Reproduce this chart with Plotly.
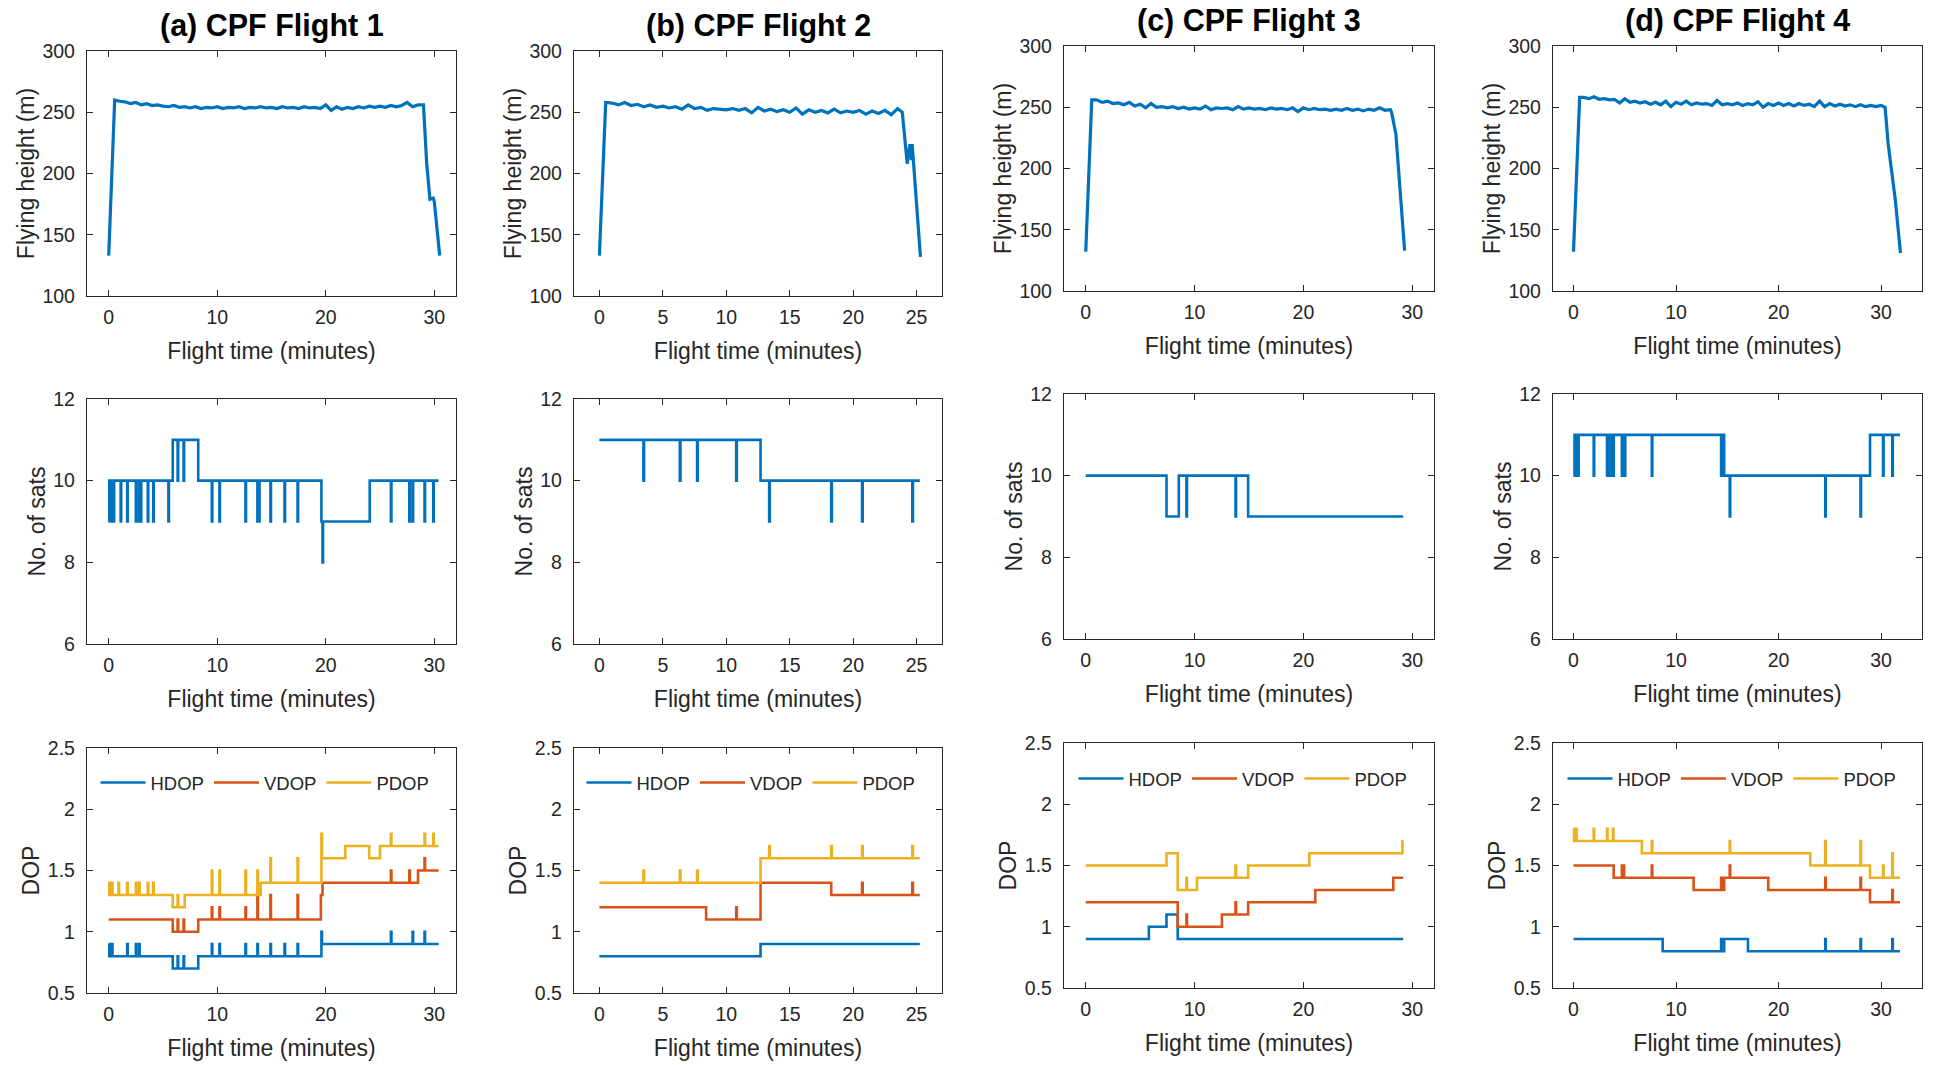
import plotly.graph_objects as go

# ------------------------------------------------------------------ data
FLIGHT_TITLES = ["(a) CPF Flight 1", "(b) CPF Flight 2", "(c) CPF Flight 3", "(d) CPF Flight 4"]

# Flying height (m) vs flight time (minutes)
F1_T = [0, 0.55, 1.0, 1.5, 2.0, 2.5, 3.0, 3.5, 4.0, 4.5, 5.0, 5.5, 6.0, 6.5, 7.0, 7.5, 8.0, 8.5, 9.0, 9.5,
        10.0, 10.5, 11.0, 11.5, 12.0, 12.5, 13.0, 13.5, 14.0, 14.5, 15.0, 15.5, 16.0, 16.5, 17.0, 17.5,
        18.0, 18.5, 19.0, 19.5, 20.0, 20.5, 21.0, 21.5, 22.0, 22.5, 23.0, 23.5, 24.0, 24.5, 25.0, 25.5,
        26.0, 26.5, 27.0, 27.5, 28.0, 28.5, 29.0, 29.3, 29.6, 29.9, 30.0, 30.5]
F1_H = [133, 260, 259, 258.5, 257, 258, 256, 257, 255.5, 256, 255, 254.5, 255.5, 254, 254.5, 253.5, 254.5, 253, 254, 253.5,
        254.5, 253, 254, 253.5, 254.5, 253, 254, 253.5, 254.5, 253.5, 254, 253, 254.5, 253.5, 254, 253,
        254.5, 253.5, 254, 253, 256, 251.5, 254.5, 252.5, 254, 253, 254.5, 253.5, 255, 254, 255, 254,
        255.5, 254.5, 255.5, 258, 254.5, 256, 256, 208, 179, 180, 177, 133]

F2_T = [0, 0.5, 1.0, 1.5, 2.0, 2.5, 3.0, 3.5, 4.0, 4.5, 5.0, 5.5, 6.0, 6.5, 7.0, 7.5, 8.0, 8.5, 9.0, 9.5,
        10.0, 10.5, 11.0, 11.5, 12.0, 12.5, 13.0, 13.5, 14.0, 14.5, 15.0, 15.5, 16.0, 16.5, 17.0, 17.5,
        18.0, 18.5, 19.0, 19.5, 20.0, 20.5, 21.0, 21.5, 22.0, 22.5, 23.0, 23.5, 23.87, 24.26, 24.47, 24.6,
        24.65, 25.3]
F2_H = [133, 258, 257.5, 256, 258, 255.5, 256.5, 254.5, 256, 254, 255, 253.5, 254.5, 252.5, 256, 253, 254, 251.5, 253, 252.5,
        252, 253, 251.5, 253, 249.5, 254, 251, 252.5, 250.5, 252, 250, 253.5, 248.5, 252, 250, 251.5,
        249.5, 252.5, 249.5, 251, 250, 251.5, 248.5, 251, 249, 251.5, 248, 253, 250, 208, 224, 211,
        224, 132]

F3_T = [0, 0.55, 1.0, 1.5, 2.0, 2.5, 3.0, 3.5, 4.0, 4.5, 5.0, 5.5, 6.0, 6.5, 7.0, 7.5, 8.0, 8.5, 9.0, 9.5,
        10.0, 10.5, 11.0, 11.5, 12.0, 12.5, 13.0, 13.5, 14.0, 14.5, 15.0, 15.5, 16.0, 16.5, 17.0, 17.5,
        18.0, 18.5, 19.0, 19.5, 20.0, 20.5, 21.0, 21.5, 22.0, 22.5, 23.0, 23.5, 24.0, 24.5, 25.0, 25.5,
        26.0, 26.5, 27.0, 27.5, 28.0, 28.1, 28.5, 29.3]
F3_H = [132, 256, 256, 254, 255, 253, 253.5, 252, 254, 251, 252.5, 249.5, 253, 250, 250.5, 249.5, 250.5, 249, 250, 248.5,
        249.5, 248.5, 251, 248, 249.5, 249, 249.5, 248, 250.5, 248.5, 249.5, 248.5, 249, 248, 249.5, 248.5,
        249, 248, 249.5, 246.5, 249.5, 248, 249, 248, 248.5, 247.5, 248.5, 247.5, 249, 247.5, 248.5, 247,
        248.5, 247.5, 249.5, 247.5, 248, 246, 228, 133]

F4_T = [0, 0.6, 1.0, 1.5, 2.0, 2.5, 3.0, 3.5, 4.0, 4.5, 5.0, 5.5, 6.0, 6.5, 7.0, 7.5, 8.0, 8.5, 9.0, 9.5,
        10.0, 10.5, 11.0, 11.5, 12.0, 12.5, 13.0, 13.5, 14.0, 14.5, 15.0, 15.5, 16.0, 16.5, 17.0, 17.5,
        18.0, 18.5, 19.0, 19.5, 20.0, 20.5, 21.0, 21.5, 22.0, 22.5, 23.0, 23.5, 24.0, 24.5, 25.0, 25.5,
        26.0, 26.5, 27.0, 27.5, 28.0, 28.5, 29.0, 29.5, 30.0, 30.4, 30.7, 31.4, 31.9]
F4_H = [132, 258, 258, 257, 258.5, 256.5, 257, 256, 256.5, 253.5, 257, 254, 255, 253.5, 254.5, 252.5, 254, 252, 255, 250.5,
        254, 252.5, 255, 252, 253.5, 252.5, 253, 251.5, 255.5, 252, 253, 252, 253.5, 251.5, 253, 252,
        254.5, 250, 253, 251.5, 253.5, 251.5, 253, 251, 253, 251.5, 252.5, 250.5, 255, 250.5, 253, 251,
        252.5, 251, 252, 250.5, 252, 250.5, 251.5, 250.5, 251.5, 250, 220, 174, 131]

# Number of satellites (step changes: time in minutes, count)
F1_SAT_T = [0, 0.05, 0.1, 0.15, 0.3, 0.35, 0.45, 0.5, 1.1, 1.15, 1.7, 1.75, 2.5, 2.55, 2.8, 2.85, 2.95, 3.0,
            3.6, 3.65, 4.1, 4.15, 5.5, 5.55, 5.9, 6.35, 6.4, 6.9, 6.95, 8.25, 9.5, 9.55, 10.2, 10.25,
            12.6, 12.65, 13.7, 13.75, 13.85, 13.9, 14.9, 14.95, 16.2, 16.25, 17.4, 17.45, 19.6, 19.7, 19.75,
            24.05, 26.0, 26.05, 27.7, 27.75, 28.0, 28.05, 29.1, 29.15, 29.9, 29.95, 30.4]
F1_SAT_N = [9, 10, 9, 10, 9, 10, 9, 10, 9, 10, 9, 10, 9, 10, 9, 10, 9, 10,
            9, 10, 9, 10, 9, 10, 11, 10, 11, 10, 11, 10, 9, 10, 9, 10,
            9, 10, 9, 10, 9, 10, 9, 10, 9, 10, 9, 10, 9, 8, 9,
            10, 9, 10, 9, 10, 9, 10, 9, 10, 9, 10, 10]

F2_SAT_T = [0, 3.47, 3.52, 6.34, 6.39, 7.7, 7.75, 10.78, 10.83, 12.7, 13.38, 13.43, 18.27, 18.32,
            20.7, 20.75, 24.66, 24.71, 25.25]
F2_SAT_N = [11, 10, 11, 10, 11, 10, 11, 10, 11, 10, 9, 10, 9, 10, 9, 10, 9, 10, 10]

F3_SAT_T = [0, 7.42, 8.55, 9.25, 9.3, 13.76, 13.81, 14.92, 29.17]
F3_SAT_N = [10, 9, 10, 9, 10, 9, 10, 9, 9]

F4_SAT_T = [0, 0.1, 0.23, 0.28, 0.45, 0.5, 1.97, 2.02, 3.27, 3.32, 3.53, 3.58, 3.75, 3.8, 3.88, 3.93,
            4.72, 4.77, 4.89, 4.94, 5.0, 5.05, 7.64, 7.69, 14.4, 14.45, 14.55, 14.6, 14.7, 15.24, 15.29,
            24.56, 24.61, 28.0, 28.05, 28.93, 30.2, 30.25, 31.1, 31.15, 31.85]
F4_SAT_N = [10, 11, 10, 11, 10, 11, 10, 11, 10, 11, 10, 11, 10, 11, 10, 11,
            10, 11, 10, 11, 10, 11, 10, 11, 10, 11, 10, 11, 10, 9, 10,
            9, 10, 9, 10, 11, 10, 11, 10, 11, 11]

# DOP (step changes)
F1_HDOP_T = [0, 0.05, 0.1, 0.15, 0.3, 0.35, 1.7, 1.75, 2.5, 2.55, 2.8, 2.85, 5.9, 6.35, 6.4, 6.9, 6.95, 8.25,
             9.5, 9.55, 10.2, 10.25, 12.6, 12.65, 13.7, 13.75, 14.9, 14.95, 16.2, 16.25, 17.4, 17.45,
             19.6, 19.65, 26.0, 26.05, 28.0, 28.05, 29.1, 29.15, 30.4]
F1_HDOP = [0.9, 0.8, 0.9, 0.8, 0.9, 0.8, 0.9, 0.8, 0.9, 0.8, 0.9, 0.8, 0.7, 0.8, 0.7, 0.8, 0.7, 0.8,
           0.9, 0.8, 0.9, 0.8, 0.9, 0.8, 0.9, 0.8, 0.9, 0.8, 0.9, 0.8, 0.9, 0.8,
           1.0, 0.9, 1.0, 0.9, 1.0, 0.9, 1.0, 0.9, 0.9]
F1_VDOP_T = [0, 5.9, 6.35, 6.4, 6.9, 6.95, 8.25, 9.5, 9.55, 10.2, 10.25, 12.6, 12.65, 13.7, 13.75,
             14.9, 14.95, 17.4, 17.45, 19.55, 19.7, 26.0, 26.05, 27.7, 27.75, 28.5, 29.1, 29.15, 30.4]
F1_VDOP = [1.1, 1.0, 1.1, 1.0, 1.1, 1.0, 1.1, 1.2, 1.1, 1.2, 1.1, 1.2, 1.1, 1.3, 1.1,
           1.3, 1.1, 1.3, 1.1, 1.3, 1.4, 1.5, 1.4, 1.5, 1.4, 1.5, 1.6, 1.5, 1.5]
F1_PDOP_T = [0, 0.05, 0.1, 0.15, 0.2, 0.25, 0.3, 0.35, 0.9, 0.95, 1.7, 1.75, 2.5, 2.55, 2.8, 2.85,
             3.6, 3.65, 4.1, 4.15, 5.9, 6.35, 6.4, 7.0, 9.5, 9.55, 10.2, 10.25, 12.6, 12.65, 13.7, 13.75,
             14.0, 14.9, 14.95, 17.4, 17.45, 19.6, 19.65, 21.8, 24.0, 25.0, 26.0, 26.05, 29.1, 29.15,
             29.9, 29.95, 30.4]
F1_PDOP = [1.4, 1.3, 1.4, 1.3, 1.4, 1.3, 1.4, 1.3, 1.4, 1.3, 1.4, 1.3, 1.4, 1.3, 1.4, 1.3,
           1.4, 1.3, 1.4, 1.3, 1.2, 1.3, 1.2, 1.3, 1.5, 1.3, 1.5, 1.3, 1.5, 1.3, 1.5, 1.3,
           1.4, 1.6, 1.4, 1.6, 1.4, 1.8, 1.6, 1.7, 1.6, 1.7, 1.8, 1.7, 1.8, 1.7,
           1.8, 1.7, 1.7]

F2_HDOP_T = [0, 12.7, 25.25]
F2_HDOP = [0.8, 0.9, 0.9]
F2_VDOP_T = [0, 8.41, 10.78, 10.83, 12.7, 18.27, 20.7, 20.75, 24.66, 24.71, 25.25]
F2_VDOP = [1.2, 1.1, 1.2, 1.1, 1.4, 1.3, 1.4, 1.3, 1.4, 1.3, 1.3]
F2_PDOP_T = [0, 3.47, 3.52, 6.34, 6.39, 7.7, 7.75, 12.7, 13.38, 13.43, 18.27, 18.32, 20.7, 20.75,
             24.66, 24.71, 25.25]
F2_PDOP = [1.4, 1.5, 1.4, 1.5, 1.4, 1.5, 1.4, 1.6, 1.7, 1.6, 1.7, 1.6, 1.7, 1.6, 1.7, 1.6, 1.6]

F3_HDOP_T = [0, 5.8, 7.42, 8.45, 29.17]
F3_HDOP = [0.9, 1.0, 1.1, 0.9, 0.9]
F3_VDOP_T = [0, 8.45, 9.25, 9.3, 12.51, 13.76, 13.81, 14.92, 21.09, 28.26, 29.17]
F3_VDOP = [1.2, 1.0, 1.1, 1.0, 1.1, 1.2, 1.1, 1.2, 1.3, 1.4, 1.4]
F3_PDOP_T = [0, 7.42, 8.45, 9.25, 9.3, 10.22, 13.76, 13.81, 14.92, 20.54, 29.1, 29.17]
F3_PDOP = [1.5, 1.6, 1.3, 1.4, 1.3, 1.4, 1.5, 1.4, 1.5, 1.6, 1.7, 1.7]

F4_HDOP_T = [0, 8.7, 14.4, 14.45, 14.55, 14.6, 14.7, 17.02, 24.56, 24.61, 28.0, 28.05, 31.1, 31.15, 31.85]
F4_HDOP = [0.9, 0.8, 0.9, 0.8, 0.9, 0.8, 0.9, 0.8, 0.9, 0.8, 0.9, 0.8, 0.9, 0.8, 0.8]
F4_VDOP_T = [0, 3.92, 4.72, 4.77, 4.89, 4.94, 7.64, 7.69, 11.72, 14.4, 14.45, 14.55, 14.6, 14.7,
             15.24, 15.29, 19.0, 24.56, 24.61, 28.0, 28.05, 28.93, 31.1, 31.15, 31.85]
F4_VDOP = [1.5, 1.4, 1.5, 1.4, 1.5, 1.4, 1.5, 1.4, 1.3, 1.4, 1.3, 1.4, 1.3, 1.4,
           1.5, 1.4, 1.3, 1.4, 1.3, 1.4, 1.3, 1.2, 1.3, 1.2, 1.2]
F4_PDOP_T = [0, 0.05, 0.1, 0.15, 0.25, 0.3, 1.97, 2.02, 3.27, 3.32, 3.85, 3.9, 6.67, 7.64, 7.69,
             15.24, 15.29, 23.1, 24.56, 24.61, 28.0, 28.05, 28.93, 30.2, 30.25, 31.1, 31.15, 31.85]
F4_PDOP = [1.8, 1.7, 1.8, 1.7, 1.8, 1.7, 1.8, 1.7, 1.8, 1.7, 1.8, 1.7, 1.6, 1.7, 1.6,
           1.7, 1.6, 1.5, 1.7, 1.5, 1.7, 1.5, 1.4, 1.5, 1.4, 1.6, 1.4, 1.4]

X_RANGES = [[-2, 32], [-2, 27], [-2, 32], [-2, 34]]
X_DTICKS = [10, 5, 10, 10]

HEIGHTS = [(F1_T, F1_H), (F2_T, F2_H), (F3_T, F3_H), (F4_T, F4_H)]
SATS = [(F1_SAT_T, F1_SAT_N), (F2_SAT_T, F2_SAT_N), (F3_SAT_T, F3_SAT_N), (F4_SAT_T, F4_SAT_N)]
DOPS = [
    [(F1_HDOP_T, F1_HDOP), (F1_VDOP_T, F1_VDOP), (F1_PDOP_T, F1_PDOP)],
    [(F2_HDOP_T, F2_HDOP), (F2_VDOP_T, F2_VDOP), (F2_PDOP_T, F2_PDOP)],
    [(F3_HDOP_T, F3_HDOP), (F3_VDOP_T, F3_VDOP), (F3_PDOP_T, F3_PDOP)],
    [(F4_HDOP_T, F4_HDOP), (F4_VDOP_T, F4_VDOP), (F4_PDOP_T, F4_PDOP)],
]
DOP_NAMES = ["HDOP", "VDOP", "PDOP"]

for grp in [HEIGHTS, SATS] + DOPS:
    for a, b in grp:
        assert len(a) == len(b), (len(a), len(b))

# ------------------------------------------------------------------ style
W, H = 1933, 1065
FONT = "Liberation Sans, Arial, Helvetica, sans-serif"
INK = "#262626"
BLUE, ORANGE, YELLOW = "#0072BD", "#D95319", "#EDB120"
DOP_COLORS = [BLUE, ORANGE, YELLOW]

COL_PX = [(87, 456), (574, 942), (1064, 1434), (1553, 1922)]
ROW_PX = [(51, 296), (399, 644), (748, 993)]
COL_DY = [0, 0, -5, -5]
Y_RANGES = [[100, 300], [6, 12], [0.5, 2.5]]
Y_DTICKS = [50, 2, 0.5]
Y_TITLES = ["Flying height (m)", "No. of sats", "DOP"]
LEGEND_CX = [265, 751, 1243, 1732]
LEGEND_CY = [783, 783, 779, 779]

TICK_SIZE = 19.5
AXTITLE_SIZE = 23
TITLE_SIZE = 30.5


def px_x(p):
    return p / W


def px_y(p):
    return 1 - p / H


fig = go.Figure()
layout = dict(
    width=W, height=H, margin=dict(l=0, r=0, t=0, b=0, pad=0, autoexpand=False),
    paper_bgcolor="white", plot_bgcolor="white",
    font=dict(family=FONT, color=INK, size=TICK_SIZE),
    annotations=[], showlegend=True,
)

for c in range(4):
    for r in range(3):
        n = r * 4 + c + 1
        xa = "x" if n == 1 else f"x{n}"
        ya = "y" if n == 1 else f"y{n}"
        x0, x1 = COL_PX[c]
        y0, y1 = ROW_PX[r]
        y0 += COL_DY[c]
        y1 += COL_DY[c]
        common = dict(
            showline=True, mirror="allticks", linecolor=INK, linewidth=1.3,
            ticks="inside", ticklen=6, tickwidth=1.3, tickcolor=INK,
            showgrid=False, zeroline=False, automargin=False,
            tickfont=dict(family=FONT, size=TICK_SIZE, color=INK),
        )
        layout["xaxis" if n == 1 else f"xaxis{n}"] = dict(
            common, domain=[px_x(x0), px_x(x1)], anchor=ya,
            range=X_RANGES[c], dtick=X_DTICKS[c], tick0=0,
            ticklabelstandoff=3,
            title=dict(text="Flight time (minutes)", font=dict(family=FONT, size=AXTITLE_SIZE, color=INK),
                       standoff=15.5),
        )
        layout["yaxis" if n == 1 else f"yaxis{n}"] = dict(
            common, domain=[px_y(y1), px_y(y0)], anchor=xa,
            range=Y_RANGES[r], dtick=Y_DTICKS[r], tick0=Y_RANGES[r][0],
            ticklabelstandoff=7,
            title=dict(text=Y_TITLES[r], font=dict(family=FONT, size=AXTITLE_SIZE, color=INK), standoff=1),
        )

        if r == 0:
            t, h = HEIGHTS[c]
            fig.add_trace(go.Scatter(x=t, y=h, mode="lines", line=dict(color=BLUE, width=3.2),
                                     xaxis=xa, yaxis=ya, showlegend=False))
        elif r == 1:
            t, s = SATS[c]
            fig.add_trace(go.Scatter(x=t, y=s, mode="lines", line=dict(color=BLUE, width=2.6, shape="hv"),
                                     xaxis=xa, yaxis=ya, showlegend=False))
        else:
            lg = "legend" if c == 0 else f"legend{c + 1}"
            for k in range(3):
                t, v = DOPS[c][k]
                fig.add_trace(go.Scatter(x=t, y=v, mode="lines", name=DOP_NAMES[k],
                                         line=dict(color=DOP_COLORS[k], width=2.6, shape="hv"),
                                         xaxis=xa, yaxis=ya, legend=lg, showlegend=True))
            layout[lg] = dict(
                orientation="h", x=px_x(LEGEND_CX[c]), y=px_y(LEGEND_CY[c]),
                xanchor="center", yanchor="middle", bgcolor="rgba(0,0,0,0)",
                font=dict(family=FONT, size=18.5, color=INK), itemwidth=45,
                tracegroupgap=0,
            )

    # panel title
    layout["annotations"].append(dict(
        text=f"<b>{FLIGHT_TITLES[c]}</b>", xref="paper", yref="paper",
        x=px_x((COL_PX[c][0] + COL_PX[c][1]) / 2), y=px_y(25 + COL_DY[c]),
        xanchor="center", yanchor="middle", showarrow=False,
        font=dict(family=FONT, size=TITLE_SIZE, color="black"),
    ))

fig.update_layout(**layout)
fig.write_html(
    "out.html",
    post_script="document.body.style.margin='0';document.body.style.overflow='hidden';",
)
